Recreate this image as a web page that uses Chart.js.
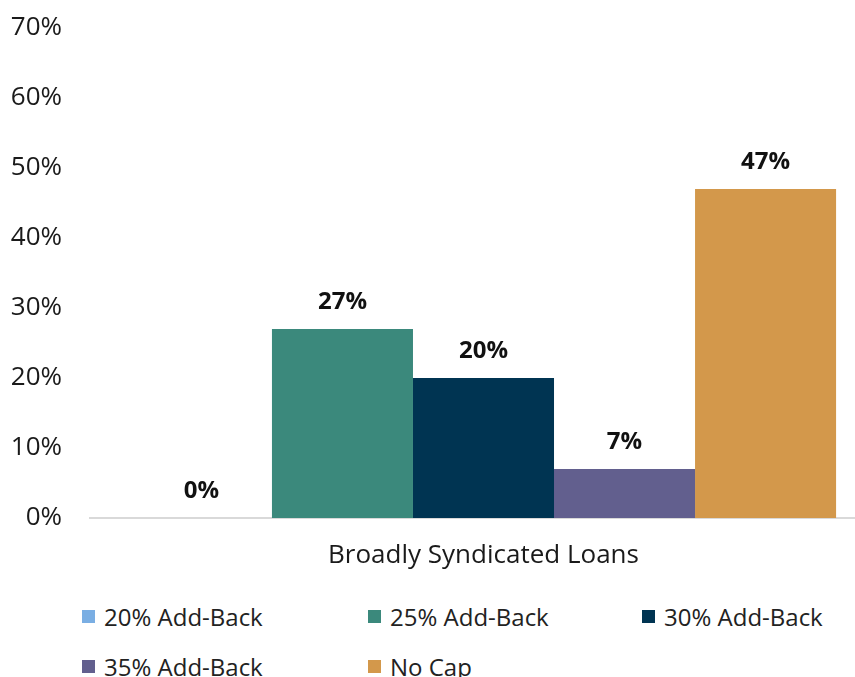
<!DOCTYPE html>
<html>
<head>
<meta charset="utf-8">
<script src="https://cdn.jsdelivr.net/npm/chart.js@4/dist/chart.umd.min.js"></script>
<style>
  html, body { margin: 0; padding: 0; background: #fff; overflow: hidden; width: 855px; height: 677px; }
  #wrap { position: absolute; left: 0; top: 0; width: 880px; height: 590px; }
  #legend { position: absolute; left: 0; top: 596px; width: 855px; font-family: "Open Sans", sans-serif; font-size: 24px; color: #222; }
  .item { position: absolute; display: flex; align-items: center; height: 40px; white-space: nowrap; }
  .box { width: 13px; height: 13px; margin-right: 9px; }
</style>
</head>
<body>
<div id="wrap"><canvas id="chart" width="880" height="590"></canvas></div>
<div id="legend"></div>
<script>
// --- DATA ---
const categories = ['Broadly Syndicated Loans'];
const seriesNames = ['20% Add-Back', '25% Add-Back', '30% Add-Back', '35% Add-Back', 'No Cap'];
const seriesValues = [0, 27, 20, 7, 47];
const seriesColors = ['#7aaee3', '#3b897c', '#003452', '#625f8e', '#d3984b'];
const yTicks = [0, 10, 20, 30, 40, 50, 60, 70];

const FONT = '"Open Sans", sans-serif';

// labels above bars
const valueLabels = {
    id: 'valueLabels',
    afterDatasetsDraw(chart) {
        const ctx = chart.ctx;
        ctx.save();
        ctx.font = 'bold 24px ' + FONT;
        ctx.fillStyle = '#111';
        ctx.textAlign = 'center';
        ctx.textBaseline = 'bottom';
        chart.data.datasets.forEach((ds, i) => {
            const meta = chart.getDatasetMeta(i);
            meta.data.forEach((bar, j) => {
                ctx.fillText(ds.data[j] + '%', bar.x, bar.y - 15);
            });
        });
        ctx.restore();
    }
};

const datasets = seriesNames.map((name, i) => ({
    label: name,
    data: [seriesValues[i]],
    backgroundColor: seriesColors[i],
    borderWidth: 0
}));

new Chart(document.getElementById('chart'), {
    type: 'bar',
    data: { labels: categories, datasets },
    options: {
        responsive: false,
        animation: false,
        devicePixelRatio: 1,
        layout: { padding: { top: 28, right: 3, bottom: 0, left: 0 } },
        datasets: { bar: { categoryPercentage: 0.896, barPercentage: 1 } },
        plugins: { legend: { display: false }, tooltip: { enabled: false } },
        scales: {
            x: {
                grid: { display: false, drawTicks: false },
                border: { display: true, color: '#d9d9d9', width: 2 },
                ticks: { color: '#1a1a1a', font: { family: FONT, size: 26 }, padding: 22 },
                afterFit(scale) { scale.height = 72; }
            },
            y: {
                min: 0, max: 70,
                afterBuildTicks(scale) { scale.ticks = yTicks.map(v => ({ value: v })); },
                grid: { display: false, drawTicks: true, tickLength: 28 },
                border: { display: false },
                ticks: { color: '#1a1a1a', font: { family: FONT, size: 26 }, padding: 0, callback: v => v + '%' },
                afterFit(scale) { scale.width = 90; }
            }
        }
    },
    plugins: [valueLabels]
});

// --- LEGEND ---
const legendPos = [[82, 0], [368, 0], [642, 0], [82, 50], [368, 50]];
const legend = document.getElementById('legend');
seriesNames.forEach((name, i) => {
    const el = document.createElement('div');
    el.className = 'item';
    el.style.left = legendPos[i][0] + 'px';
    el.style.top = legendPos[i][1] + 'px';
    el.innerHTML = '<span class="box" style="background:' + seriesColors[i] + '"></span><span>' + name + '</span>';
    legend.appendChild(el);
});
</script>
</body>
</html>
